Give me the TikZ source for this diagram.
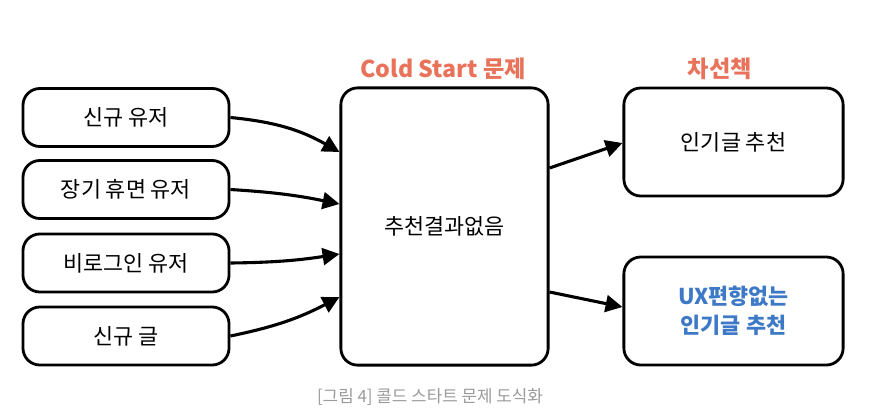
\documentclass[tikz,border=0pt]{standalone}
\usepackage{fontspec}
\setmainfont{Noto Sans CJK KR}
\usepackage{xcolor}
\usetikzlibrary{positioning, arrows.meta}
\definecolor{titleorange}{HTML}{E8735A}
\definecolor{textblue}{HTML}{3D79C6}
\definecolor{captiongray}{HTML}{9A9A9A}

\begin{document}
\begin{tikzpicture}[x=0.025cm, y=-0.025cm,
        box/.style={draw, line width=2pt, rounded corners=12pt, align=center, font=\fontsize{15.5}{21}\selectfont},
        title/.style={font=\bfseries\fontsize{16.5}{19}\selectfont, text=titleorange},
        arrow/.style={-{Triangle[length=12pt, width=12pt]}, line width=2.2pt}
    ]
        \useasboundingbox (0,0) rectangle (885,415);
        % Nodes
        \node (newUser) at (126,117.5) [box, minimum width=5.15cm, minimum height=1.45cm] {신규 유저};
        \node (dormant) at (126,189.5) [box, minimum width=5.15cm, minimum height=1.45cm] {장기 휴면 유저};
        \node (guest) at (126,263) [box, minimum width=5.15cm, minimum height=1.45cm] {비로그인 유저};
        \node (newPost) at (126,336) [box, minimum width=5.15cm, minimum height=1.45cm] {신규 글};
        \node (noResult) at (444.5,226.5) [box, minimum width=5.18cm, minimum height=6.93cm] {추천결과없음};
        \node (popular) at (733.5,142) [box, minimum width=5.48cm, minimum height=2.7cm] {인기글 추천};
        \node (unbiased) at (733.5,311) [box, minimum width=5.48cm, minimum height=2.7cm, text=textblue, font=\bfseries\fontsize{15.5}{21}\selectfont] {UX편향없는\\인기글 추천};
        \node (coldTitle) at (443,69) [title] {Cold Start 문제};
        \node (altTitle) at (720,69) [title] {차선책};
        \node (caption) at (430,397) [text=captiongray, font=\fontsize{12}{14}\selectfont] {[그림 4] 콜드 스타트 문제 도식화};

        % Connections
        \draw[arrow] (newUser.east) to[bend left=12] (noResult.west |- 0,152);
        \draw[arrow] (dormant.east) to[bend left=4] (noResult.west |- 0,204);
        \draw[arrow] (guest.east) to[bend right=4] (noResult.west |- 0,254);
        \draw[arrow] (newPost.east) to[bend right=8] (noResult.west |- 0,297);
        \draw[arrow] (noResult.east |- 0,168) -- (popular.west |- 0,143);
        \draw[arrow] (noResult.east |- 0,292) -- (unbiased.west |- 0,307);
    \end{tikzpicture}
\end{document}
